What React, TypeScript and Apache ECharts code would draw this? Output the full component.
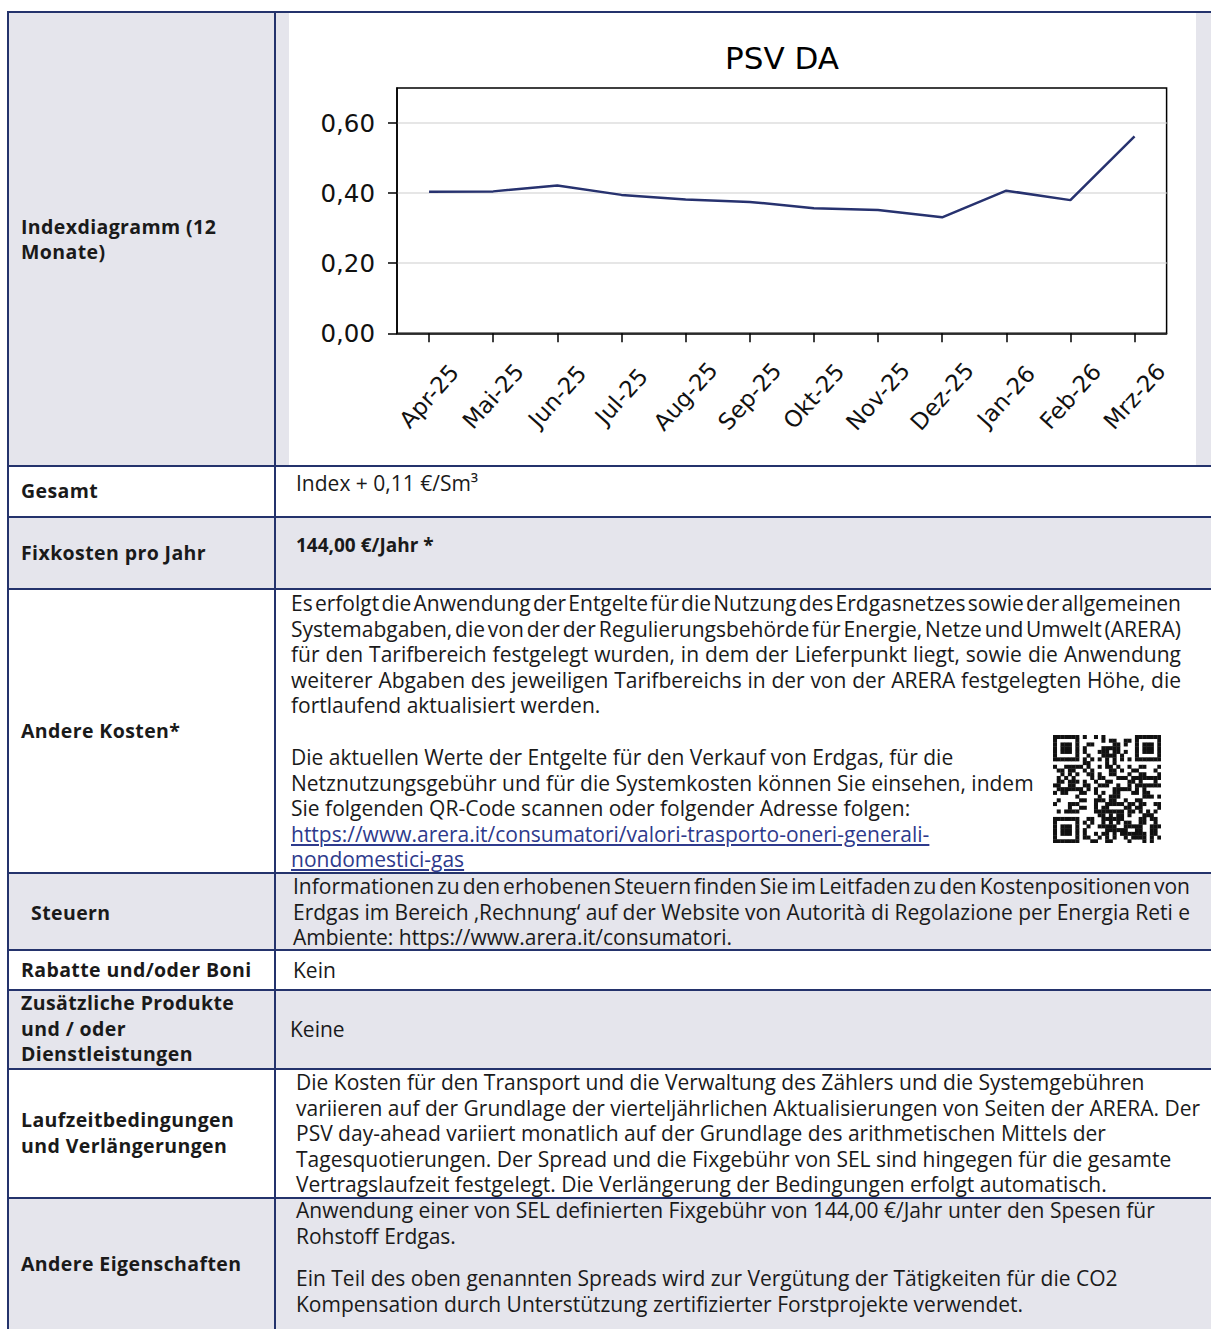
import React, { useEffect, useLayoutEffect, useRef } from 'react';
import * as echarts from 'echarts';

// ---------- chart data ----------
const months = ['Apr-25', 'Mai-25', 'Jun-25', 'Jul-25', 'Aug-25', 'Sep-25', 'Okt-25', 'Nov-25', 'Dez-25', 'Jan-26', 'Feb-26', 'Mrz-26'];
const psvDa = [0.404, 0.405, 0.422, 0.395, 0.382, 0.375, 0.357, 0.352, 0.331, 0.407, 0.38, 0.562];
const yTicks = [0, 0.2, 0.4, 0.6];
const chartTitle = 'PSV DA';

// ---------- table texts ----------
const labelIndex = ['Indexdiagramm (12', 'Monate)'];
const labelGesamt = 'Gesamt';
const labelFix = 'Fixkosten pro Jahr';
const labelAndere = 'Andere Kosten*';
const labelSteuern = 'Steuern';
const labelRabatte = 'Rabatte und/oder Boni';
const labelZus = ['Zusätzliche Produkte', 'und / oder', 'Dienstleistungen'];
const labelLauf = ['Laufzeitbedingungen', 'und Verlängerungen'];
const labelEig = 'Andere Eigenschaften';

const textGesamt = 'Index + 0,11 €/Sm³';
const textFix = '144,00 €/Jahr *';
const andereP1 = [
  'Es erfolgt die Anwendung der Entgelte für die Nutzung des Erdgasnetzes sowie der allgemeinen',
  'Systemabgaben, die von der der Regulierungsbehörde für Energie, Netze und Umwelt (ARERA)',
  'für den Tarifbereich festgelegt wurden, in dem der Lieferpunkt liegt, sowie die Anwendung',
  'weiterer Abgaben des jeweiligen Tarifbereichs in der von der ARERA festgelegten Höhe, die',
];
const andereP1Last = 'fortlaufend aktualisiert werden.';
const andereP2 = [
  'Die aktuellen Werte der Entgelte für den Verkauf von Erdgas, für die',
  'Netznutzungsgebühr und für die Systemkosten können Sie einsehen, indem',
  'Sie folgenden QR-Code scannen oder folgender Adresse folgen:',
];
const andereLink = ['https://www.arera.it/consumatori/valori-trasporto-oneri-generali-', 'nondomestici-gas'];
const steuernJust = [
  'Informationen zu den erhobenen Steuern finden Sie im Leitfaden zu den Kostenpositionen von',
  'Erdgas im Bereich ‚Rechnung‘ auf der Website von Autorità di Regolazione per Energia Reti e',
];
const steuernLast = 'Ambiente: https://www.arera.it/consumatori.';
const textRabatte = 'Kein';
const textZus = 'Keine';
const laufText = [
  'Die Kosten für den Transport und die Verwaltung des Zählers und die Systemgebühren',
  'variieren auf der Grundlage der vierteljährlichen Aktualisierungen von Seiten der ARERA. Der',
  'PSV day-ahead variiert monatlich auf der Grundlage des arithmetischen Mittels der',
  'Tagesquotierungen. Der Spread und die Fixgebühr von SEL sind hingegen für die gesamte',
  'Vertragslaufzeit festgelegt. Die Verlängerung der Bedingungen erfolgt automatisch.',
];
const eigP1 = ['Anwendung einer von SEL definierten Fixgebühr von 144,00 €/Jahr unter den Spesen für', 'Rohstoff Erdgas.'];
const eigP2 = ['Ein Teil des oben genannten Spreads wird zur Vergütung der Tätigkeiten für die CO2', 'Kompensation durch Unterstützung zertifizierter Forstprojekte verwendet.'];

const NAVY = '#24336c';
const GRAY = '#e5e5ec';
const INK = '#1a1a1a';
const LH = 24;
const BODY_FONT = '"Open Sans", "Noto Sans", sans-serif';
const BODY_SIZE = 21;
const LABEL_SIZE = 19.5;
const LABEL_SPACING = 0.4;

type LineProps = {
  x: number;
  y: number;
  text: string;
  bold?: boolean;
  color?: string;
  underline?: boolean;
  size?: number;
  spacing?: number;
  fitWidth?: number;
};

function Line(props: LineProps) {
  const { x, y, text, bold, color, underline, size, spacing, fitWidth } = props;
  const ref = useRef<HTMLDivElement>(null);
  useLayoutEffect(() => {
    if (!fitWidth) return;
    const el = ref.current;
    if (!el) return;
    const fit = () => {
      el.style.wordSpacing = '0px';
      const natural = el.getBoundingClientRect().width;
      const spaces = (text.match(/ /g) || []).length;
      if (spaces > 0) el.style.wordSpacing = (fitWidth - natural) / spaces + 'px';
    };
    fit();
    const fonts = (document as any).fonts;
    if (fonts && fonts.ready) fonts.ready.then(fit);
  }, [text, fitWidth]);
  const style: React.CSSProperties = {
    position: 'absolute',
    left: x,
    top: y - LH / 2,
    lineHeight: LH + 'px',
    fontSize: size || BODY_SIZE,
    fontWeight: bold ? 700 : 400,
    letterSpacing: spacing ? spacing + 'px' : undefined,
    color: color || INK,
    textDecoration: underline ? 'underline' : 'none',
    whiteSpace: 'nowrap',
    fontFamily: BODY_FONT,
  };
  return (
    <div ref={ref} style={style}>
      {text}
    </div>
  );
}

function Lines(props: { x: number; ys: number[]; lines: string[]; bold?: boolean; color?: string; underline?: boolean; size?: number; spacing?: number; fitWidth?: number }) {
  const { x, ys, lines, ...rest } = props;
  return (
    <>
      {lines.map((t, i) => (
        <Line key={i} x={x} y={ys[i]} text={t} {...rest} />
      ))}
    </>
  );
}

function buildQr(n: number): boolean[][] {
  const m: boolean[][] = [];
  let s = 20250401;
  for (let r = 0; r < n; r++) {
    m.push([]);
    for (let c = 0; c < n; c++) {
      s = (s * 1103515245 + 12345) % 2147483648;
      m[r].push(((s >> 13) & 1) === 1);
    }
  }
  const finder = (r0: number, c0: number) => {
    for (let i = -1; i <= 7; i++) {
      for (let j = -1; j <= 7; j++) {
        const r = r0 + i;
        const c = c0 + j;
        if (r < 0 || c < 0 || r >= n || c >= n) continue;
        const ring = i === -1 || i === 7 || j === -1 || j === 7;
        const border = i === 0 || i === 6 || j === 0 || j === 6;
        const core = i >= 2 && i <= 4 && j >= 2 && j <= 4;
        m[r][c] = !ring && (border || core);
      }
    }
  };
  finder(0, 0);
  finder(0, n - 7);
  finder(n - 7, 0);
  for (let k = 8; k < n - 8; k++) {
    m[6][k] = k % 2 === 0;
    m[k][6] = k % 2 === 0;
  }
  return m;
}

function QrCode(props: { x: number; y: number; size: number }) {
  const n = 29;
  const m = buildQr(n);
  const cell = props.size / n;
  const rects: React.ReactElement[] = [];
  for (let r = 0; r < n; r++) {
    for (let c = 0; c < n; c++) {
      if (m[r][c]) rects.push(<rect key={r * n + c} x={c * cell} y={r * cell} width={cell + 0.3} height={cell + 0.3} fill="#111" />);
    }
  }
  return (
    <svg style={{ position: 'absolute', left: props.x, top: props.y }} width={props.size} height={props.size}>
      {rects}
    </svg>
  );
}

function PsvChart() {
  const ref = useRef<HTMLDivElement>(null);
  useEffect(() => {
    if (!ref.current) return;
    const chart = echarts.init(ref.current, undefined, { renderer: 'svg' });
    const fmt = (v: number) => v.toFixed(2).replace('.', ',');
    chart.setOption({
      animation: false,
      backgroundColor: '#ffffff',
      textStyle: { fontFamily: 'DejaVu Sans' },
      graphic: [
        {
          type: 'text',
          x: 493,
          y: 45,
          style: {
            text: chartTitle,
            font: '31px "DejaVu Sans"',
            fill: '#000',
            textAlign: 'center',
            textVerticalAlign: 'middle',
          },
        },
      ],
      grid: {
        left: 108,
        right: 29.4,
        top: 75,
        bottom: 131.7,
        show: true,
        borderColor: '#000',
        borderWidth: 1.5,
        backgroundColor: 'transparent',
      },
      xAxis: {
        type: 'category',
        data: months,
        boundaryGap: true,
        axisLine: { show: true, lineStyle: { color: '#000', width: 1.5 } },
        axisTick: { show: true, alignWithLabel: true, length: 9, lineStyle: { color: '#000', width: 1.5 } },
        axisLabel: {
          interval: 0,
          rotate: 48,
          fontSize: 23,
          fontFamily: 'DejaVu Sans',
          color: '#111',
          margin: 63,
          align: 'center',
          verticalAlign: 'middle',
        },
        splitLine: { show: false },
      },
      yAxis: {
        type: 'value',
        min: 0,
        max: 0.7,
        axisLine: { show: true, lineStyle: { color: '#000', width: 1.5 } },
        axisTick: { show: true, length: 9, customValues: yTicks, lineStyle: { color: '#000', width: 1.5 } },
        axisLabel: {
          customValues: yTicks,
          formatter: fmt,
          fontSize: 24.5,
          fontFamily: 'DejaVu Sans',
          color: '#111',
          margin: 22,
        },
        splitLine: { show: true, lineStyle: { color: '#dedede', width: 1.5 } },
      },
      series: [
        {
          type: 'line',
          data: psvDa,
          symbol: 'none',
          lineStyle: { color: '#27326f', width: 2.5 },
        },
      ],
    });
    return () => chart.dispose();
  }, []);
  return <div ref={ref} style={{ position: 'absolute', left: 289, top: 13, width: 907, height: 452 }} />;
}

export default function App() {
  const grayRows: [number, number][] = [
    [13, 465],
    [518, 588],
    [874, 949],
    [991, 1068],
    [1199, 1329],
  ];
  const hLines = [11, 465, 516, 588, 872, 949, 989, 1068, 1197];
  const lab = { bold: true, size: LABEL_SIZE, spacing: LABEL_SPACING };
  return (
    <div
      style={{
        position: 'absolute',
        left: 0,
        top: 0,
        width: 1211,
        height: 1329,
        overflow: 'hidden',
        background: '#ffffff',
        fontFamily: BODY_FONT,
      }}
    >
      {grayRows.map(([a, b], i) => (
        <div key={'g' + i} style={{ position: 'absolute', left: 9, top: a, width: 1202, height: b - a, background: GRAY }} />
      ))}
      <PsvChart />
      {hLines.map((y, i) => (
        <div key={'h' + i} style={{ position: 'absolute', left: 7, top: y, width: 1204, height: 2, background: NAVY }} />
      ))}
      <div style={{ position: 'absolute', left: 7, top: 11, width: 2, height: 1318, background: NAVY }} />
      <div style={{ position: 'absolute', left: 274, top: 11, width: 2, height: 1318, background: NAVY }} />

      {/* left column labels */}
      <Lines x={21} ys={[227, 252]} lines={labelIndex} {...lab} />
      <Line x={21} y={491} text={labelGesamt} {...lab} />
      <Line x={21} y={553} text={labelFix} {...lab} />
      <Line x={21} y={731} text={labelAndere} {...lab} />
      <Line x={31} y={913} text={labelSteuern} {...lab} />
      <Line x={21} y={970} text={labelRabatte} {...lab} />
      <Lines x={21} ys={[1003, 1028.5, 1054]} lines={labelZus} {...lab} />
      <Lines x={21} ys={[1120, 1145.5]} lines={labelLauf} {...lab} />
      <Line x={21} y={1264} text={labelEig} {...lab} />

      {/* right column contents */}
      <Line x={296} y={483} text={textGesamt} />
      <Line x={296} y={545} text={textFix} bold size={19} />
      <Lines x={291} ys={[603, 628.5, 654, 679.5]} lines={andereP1} fitWidth={890} />
      <Line x={291} y={705} text={andereP1Last} />
      <Lines x={291} ys={[757, 782.5, 808]} lines={andereP2} />
      <Lines x={291} ys={[833.5, 859]} lines={andereLink} color="#2e3a8c" underline />
      <QrCode x={1053} y={735} size={108} />
      <Lines x={293} ys={[886, 911.5]} lines={steuernJust} fitWidth={897} />
      <Line x={293} y={937} text={steuernLast} />
      <Line x={293} y={970} text={textRabatte} />
      <Line x={290} y={1029} text={textZus} />
      <Lines x={296} ys={[1082, 1107.5, 1133, 1158.5, 1184]} lines={laufText} />
      <Lines x={296} ys={[1210, 1235.5]} lines={eigP1} />
      <Lines x={296} ys={[1278, 1303.5]} lines={eigP2} />
    </div>
  );
}
